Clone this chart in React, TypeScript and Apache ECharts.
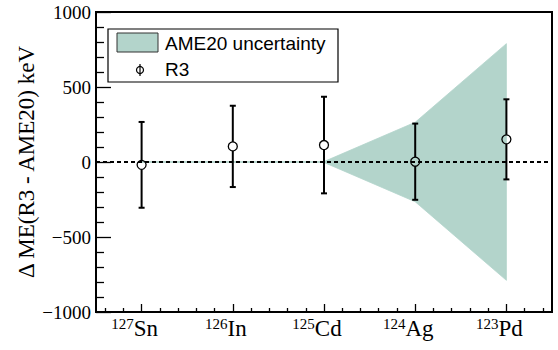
import React, { useEffect, useRef } from "react";
import * as echarts from "echarts";

// ---- data ----
const masses = ["127", "126", "125", "124", "123"];
const elements = ["Sn", "In", "Cd", "Ag", "Pd"];
const positions = [1, 2, 3, 4, 5];
const r3Values = [-19, 104, 113, 2, 151];
const r3Errors = [286, 271, 322, 254, 267];
const ame20Unc = [3, 3, 3, 265, 789];
const yMin = -1000;
const yMax = 1000;
const yInterval = 500;
const xMinorTicks = [0.6, 0.8, 1.2, 1.4, 1.6, 1.8, 2.2, 2.4, 2.6, 2.8, 3.2, 3.4, 3.6, 3.8, 4.2, 4.4, 4.6, 4.8, 5.2, 5.4];
const yTitle = "\u0394 ME(R3 - AME20) keV";

const BAND = "#b3d4cb";
const SERIF = "Liberation Serif";
const SANS = "Liberation Sans";

export default function App() {
  const ref = useRef<HTMLDivElement>(null);

  useEffect(() => {
    if (!ref.current) return;
    const chart = echarts.init(ref.current, null, { renderer: "svg" });

    const option: any = {
      animation: false,
      backgroundColor: "#ffffff",
      textStyle: { fontFamily: SERIF },
      grid: {
        left: 96,
        right: 6,
        top: 12,
        bottom: 38,
        containLabel: false,
        outerBoundsMode: "none",
        show: true,
        borderColor: "#000",
        borderWidth: 2,
        backgroundColor: "transparent",
      },
      xAxis: [
        {
          type: "value",
          min: 0.5,
          max: 5.5,
          position: "bottom",
          splitLine: { show: false },
          axisLine: { show: true, onZero: false, lineStyle: { color: "#000", width: 2 } },
          axisTick: {
            show: true,
            inside: true,
            length: 8,
            customValues: positions,
            lineStyle: { color: "#000", width: 1.3 },
          },
          axisLabel: {
            customValues: positions,
            margin: 4,
            padding: [0, 14, 0, 0],
            fontFamily: SERIF,
            formatter: (v: number) => {
              const i = positions.indexOf(Math.round(v));
              if (i < 0) return "";
              return `{sup|${masses[i]}}{el|${elements[i]}}`;
            },
            rich: {
              sup: {
                fontFamily: SERIF,
                fontSize: 15,
                color: "#000",
                verticalAlign: "top",
                lineHeight: 24,
                padding: [0, 0, 9, 0],
              },
              el: {
                fontFamily: SERIF,
                fontSize: 23,
                color: "#000",
                lineHeight: 24,
              },
            },
          },
        },
        {
          type: "value",
          min: 0.5,
          max: 5.5,
          position: "bottom",
          splitLine: { show: false },
          axisLine: { show: false, onZero: false },
          axisLabel: { show: false },
          axisTick: {
            show: true,
            inside: true,
            length: 4,
            customValues: xMinorTicks,
            lineStyle: { color: "#000", width: 1.3 },
          },
        },
      ],
      yAxis: {
        type: "value",
        min: yMin,
        max: yMax,
        interval: yInterval,
        splitLine: { show: false },
        axisLine: { show: true, onZero: false, lineStyle: { color: "#000", width: 2 } },
        axisTick: { show: true, inside: true, length: 15, lineStyle: { color: "#000", width: 1.3 } },
        minorTick: { show: true, splitNumber: 5, length: 8, lineStyle: { color: "#000", width: 1.3 } },
        axisLabel: {
          fontFamily: SERIF,
          fontSize: 19,
          color: "#000",
          margin: 5,
          formatter: (v: number) => (v < 0 ? "\u2212" + Math.abs(v) : String(v)),
        },
      },
      graphic: [
        {
          type: "text",
          x: 26,
          y: 162,
          rotation: Math.PI / 2,
          z: 100,
          style: {
            text: yTitle,
            fontFamily: SERIF,
            fontSize: 23,
            fill: "#000",
            textAlign: "center",
            textVerticalAlign: "middle",
          },
        },
        {
          type: "group",
          z: 100,
          children: [
            {
              type: "rect",
              shape: { x: 108, y: 29, width: 230, height: 53 },
              style: { fill: "#fff", stroke: "#000", lineWidth: 1.2 },
            },
            {
              type: "rect",
              shape: { x: 117, y: 33, width: 41, height: 19 },
              style: { fill: BAND, stroke: "#333", lineWidth: 1 },
            },
            {
              type: "text",
              x: 165,
              y: 43,
              style: {
                text: "AME20 uncertainty",
                fontFamily: SANS,
                fontSize: 19,
                fill: "#000",
                textAlign: "left",
                textVerticalAlign: "middle",
              },
            },
            {
              type: "line",
              shape: { x1: 140, y1: 64, x2: 140, y2: 76 },
              style: { stroke: "#000", lineWidth: 1.2 },
            },
            {
              type: "circle",
              shape: { cx: 140, cy: 70, r: 3.5 },
              style: { fill: "rgba(0,0,0,0)", stroke: "#000", lineWidth: 1.2 },
            },
            {
              type: "text",
              x: 165,
              y: 69,
              style: {
                text: "R3",
                fontFamily: SANS,
                fontSize: 19,
                fill: "#000",
                textAlign: "left",
                textVerticalAlign: "middle",
              },
            },
          ],
        },
      ],
      series: [
        {
          name: "AME20 uncertainty",
          type: "custom",
          xAxisIndex: 0,
          yAxisIndex: 0,
          silent: true,
          z: 1,
          data: positions.map((x, i) => [x, ame20Unc[i]]),
          renderItem: (params: any, api: any) => {
            if (params.dataIndex !== 0) return { type: "group", children: [] };
            const top = positions.map((x, i) => api.coord([x, ame20Unc[i]]));
            const bot = positions.map((x, i) => api.coord([x, -ame20Unc[i]])).reverse();
            return {
              type: "polygon",
              shape: { points: top.concat(bot) },
              style: { fill: BAND, stroke: BAND, lineWidth: 0.8 },
            };
          },
        },
        {
          name: "zero",
          type: "line",
          xAxisIndex: 0,
          yAxisIndex: 0,
          silent: true,
          symbol: "none",
          z: 2,
          data: [
            [0.5, 0],
            [5.5, 0],
          ],
          lineStyle: { color: "#000", width: 2, type: [4, 3] },
        },
        {
          name: "R3",
          type: "custom",
          xAxisIndex: 0,
          yAxisIndex: 0,
          z: 3,
          data: positions.map((x, i) => [x, r3Values[i], r3Errors[i]]),
          renderItem: (params: any, api: any) => {
            const x = api.value(0);
            const y = api.value(1);
            const e = api.value(2);
            const c = api.coord([x, y]);
            const t = api.coord([x, y + e]);
            const b = api.coord([x, y - e]);
            const r = 4.5;
            const cap = 3;
            const ls = { stroke: "#000", lineWidth: 2 };
            return {
              type: "group",
              children: [
                { type: "line", shape: { x1: c[0], y1: t[1], x2: c[0], y2: c[1] - r }, style: ls },
                { type: "line", shape: { x1: c[0], y1: c[1] + r, x2: c[0], y2: b[1] }, style: ls },
                { type: "line", shape: { x1: c[0] - cap, y1: t[1], x2: c[0] + cap, y2: t[1] }, style: ls },
                { type: "line", shape: { x1: c[0] - cap, y1: b[1], x2: c[0] + cap, y2: b[1] }, style: ls },
                {
                  type: "circle",
                  shape: { cx: c[0], cy: c[1], r },
                  style: { fill: "rgba(0,0,0,0)", stroke: "#000", lineWidth: 1.3 },
                },
              ],
            };
          },
        },
      ],
    };

    chart.setOption(option);
    return () => chart.dispose();
  }, []);

  return (
    <div
      ref={ref}
      style={{ position: "fixed", left: 0, top: 0, width: 558, height: 350, background: "#fff" }}
    />
  );
}
